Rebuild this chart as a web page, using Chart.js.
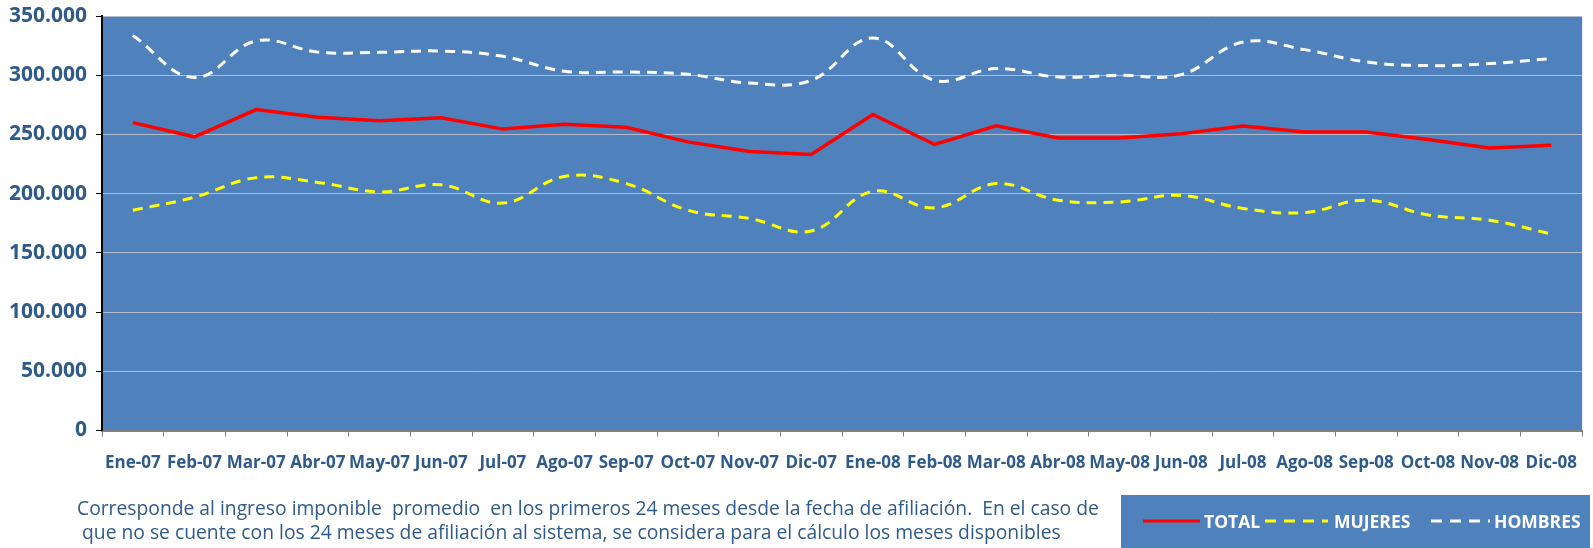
<!DOCTYPE html>
<html lang="es">
  <head>
    <meta charset="UTF-8" />
    <title>Ingreso imponible promedio</title>
    <style>
      body {
        margin: 0;
        background: #fff;
        font-family: "Open Sans", sans-serif;
      }
      .wrap {
        position: relative;
        width: 1593px;
        height: 548px;
        overflow: hidden;
      }
      #chart {
        position: absolute;
        left: 0;
        top: 0;
      }
      .note {
        position: absolute;
        left: 77px;
        top: 496px;
        color: #2e5a8c;
        font-size: 19.3px;
        line-height: 24px;
        white-space: pre;
      }
      .legend {
        position: absolute;
        left: 1121px;
        top: 495px;
        width: 469px;
        height: 60px;
        background: #4f81bd;
        color: #fff;
        font-weight: bold;
        font-size: 17.5px;
      }
      .legend svg {
        position: absolute;
        left: 0;
        top: 0;
      }
      .legend span {
        position: absolute;
        top: 14px;
        line-height: 24px;
      }
    </style>
  </head>
  <body>
    <div class="wrap">
      <canvas id="chart" width="1593" height="548"></canvas>
      <div class="note">Corresponde al ingreso imponible  promedio  en los primeros 24 meses desde la fecha de afiliación.  En el caso de
 que no se cuente con los 24 meses de afiliación al sistema, se considera para el cálculo los meses disponibles</div>
      <div class="legend">
        <svg width="469" height="60">
          <line x1="22" y1="26" x2="79" y2="26" stroke="#ff0000" stroke-width="3" />
          <line x1="144" y1="26" x2="207" y2="26" stroke="#ffff00" stroke-width="3" stroke-dasharray="11,8" />
          <line x1="310" y1="26" x2="369" y2="26" stroke="#ffffff" stroke-width="3" stroke-dasharray="11,8" />
        </svg>
        <span style="left: 83px">TOTAL</span>
        <span style="left: 213px">MUJERES</span>
        <span style="left: 373px">HOMBRES</span>
      </div>
    </div>
    <script src="https://cdn.jsdelivr.net/npm/chart.js"></script>
    <script>
      const months = [
        "Ene-07", "Feb-07", "Mar-07", "Abr-07", "May-07", "Jun-07",
        "Jul-07", "Ago-07", "Sep-07", "Oct-07", "Nov-07", "Dic-07",
        "Ene-08", "Feb-08", "Mar-08", "Abr-08", "May-08", "Jun-08",
        "Jul-08", "Ago-08", "Sep-08", "Oct-08", "Nov-08", "Dic-08",
      ];

      const total = [
        260000, 248000, 271000, 264500, 261500, 264000,
        254500, 258500, 256000, 243700, 235500, 233000,
        266800, 241500, 257200, 247000, 247000, 250500,
        257200, 252000, 252000, 245700, 238600, 240900,
      ];

      const mujeres = [
        186000, 197000, 213500, 209500, 201500, 207500,
        192000, 214500, 208500, 186000, 179000, 168500,
        202000, 188000, 208500, 194500, 193000, 198500,
        187500, 184000, 194500, 182000, 177500, 166000,
      ];

      const hombres = [
        333500, 298000, 329000, 319500, 319300, 320400,
        316000, 303300, 302700, 300800, 293400, 295700,
        331400, 295700, 305600, 298500, 300000, 300500,
        328000, 321600, 311200, 308100, 309800, 314000,
      ];

      const yMax = 350000;
      const yStep = 50000;

      const tickColor = "#2e5a8c";

      function fmt(v) {
        return String(v).replace(/\B(?=(\d{3})+(?!\d))/g, ".");
      }

      const plotBg = {
        id: "plotBg",
        beforeDraw(chart) {
          const { ctx, chartArea } = chart;
          ctx.save();
          ctx.fillStyle = "#4f81bd";
          ctx.fillRect(
            chartArea.left,
            chartArea.top,
            chartArea.right - chartArea.left,
            chartArea.bottom - chartArea.top
          );
          ctx.restore();
        },
      };

      new Chart(document.getElementById("chart"), {
        type: "line",
        data: {
          labels: months,
          datasets: [
            {
              label: "TOTAL",
              data: total,
              borderColor: "#ff0000",
              borderWidth: 3.5,
              tension: 0,
              pointRadius: 0,
            },
            {
              label: "MUJERES",
              data: mujeres,
              borderColor: "#ffff00",
              borderWidth: 3,
              borderDash: [10, 7],
              tension: 0.4,
              pointRadius: 0,
            },
            {
              label: "HOMBRES",
              data: hombres,
              borderColor: "#ffffff",
              borderWidth: 3,
              borderDash: [10, 7],
              tension: 0.4,
              pointRadius: 0,
            },
          ],
        },
        options: {
          responsive: false,
          animation: false,
          layout: { padding: { top: 16, right: 0, left: 0, bottom: 0 } },
          plugins: {
            legend: { display: false },
            tooltip: { enabled: false },
          },
          scales: {
            x: {
              offset: true,
              afterFit: (s) => {
                s.height = 117.5;
              },
              border: { color: "#808080", width: 2 },
              grid: {
                offset: true,
                drawOnChartArea: false,
                drawTicks: true,
                tickLength: 6,
                color: "#808080",
              },
              ticks: {
                color: tickColor,
                padding: 16,
                maxRotation: 0,
                autoSkip: false,
                font: { family: "Open Sans", weight: "bold", size: 17 },
              },
            },
            y: {
              min: 0,
              max: yMax,
              afterFit: (s) => {
                s.width = 102;
                s.paddingTop = 0;
                s.paddingBottom = 0;
              },
              border: { color: "#000000", width: 2 },
              grid: {
                color: "#b4bccc",
                borderDash: [1.5, 2],
                lineWidth: 1,
                tickLength: 6,
                tickColor: "#000000",
                tickBorderDash: [],
              },
              ticks: {
                stepSize: yStep,
                color: tickColor,
                padding: 9,
                callback: (v) => fmt(v),
                font: { family: "Open Sans", weight: "bold", size: 21 },
              },
            },
          },
        },
        plugins: [plotBg],
      });
    </script>
  </body>
</html>
